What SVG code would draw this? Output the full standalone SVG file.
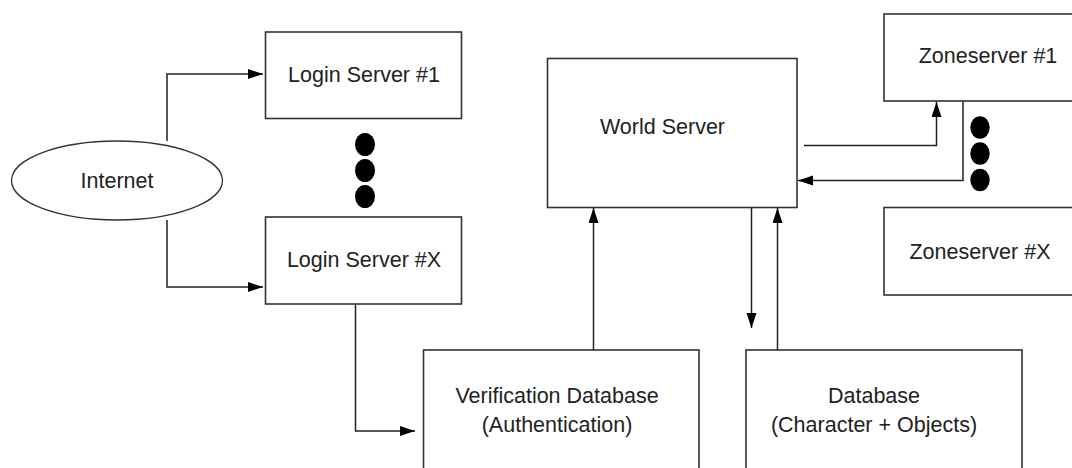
<svg xmlns="http://www.w3.org/2000/svg" width="1072" height="468" viewBox="0 0 1072 468">
  <defs>
    <marker id="arr" markerUnits="userSpaceOnUse" markerWidth="16" markerHeight="12" refX="15" refY="5" orient="auto">
      <path d="M0,0 L15,5 L0,10 z" fill="#000"/>
    </marker>
    <style>
      .box { fill: #fff; stroke: #333; stroke-width: 1.6; }
      .lbl { font-family: "Liberation Sans", Arial, sans-serif; font-size: 21.5px; fill: #222; text-anchor: middle; }
      .con { fill: none; stroke: #222; stroke-width: 1.5; }
      .dot { fill: #000; }
    </style>
  </defs>
  <rect width="1072" height="468" fill="#fff"/>

  <g id="connectors">
    <polyline class="con" points="167,141 167,74 263,74" marker-end="url(#arr)"/>
    <polyline class="con" points="167,220 167,287 263,287" marker-end="url(#arr)"/>
    <polyline class="con" points="355.5,304 355.5,431 415,431" marker-end="url(#arr)"/>
    <line class="con" x1="593.5" y1="350" x2="593.5" y2="208" marker-end="url(#arr)"/>
    <line class="con" x1="751.5" y1="207" x2="751.5" y2="328" marker-end="url(#arr)"/>
    <line class="con" x1="777.5" y1="350" x2="777.5" y2="208" marker-end="url(#arr)"/>
    <polyline class="con" points="804,145.5 936.5,145.5 936.5,102" marker-end="url(#arr)"/>
    <polyline class="con" points="963,101 963,180.5 798,180.5" marker-end="url(#arr)"/>
  </g>

  <g id="internet">
    <ellipse cx="117" cy="180.5" rx="105.5" ry="39.5" fill="#fff" stroke="#333" stroke-width="1.3"/>
    <text class="lbl" x="117" y="188">Internet</text>
  </g>

  <g id="login1">
    <rect class="box" x="265.5" y="32" width="196" height="86.5"/>
    <text class="lbl" x="364" y="82">Login Server #1</text>
  </g>

  <g id="login-dots">
    <ellipse class="dot" cx="365" cy="144.5" rx="10" ry="11.5"/>
    <ellipse class="dot" cx="365" cy="170.5" rx="10" ry="11.5"/>
    <ellipse class="dot" cx="365" cy="196.5" rx="10" ry="11.5"/>
  </g>

  <g id="loginX">
    <rect class="box" x="265.5" y="217" width="196" height="87"/>
    <text class="lbl" x="364" y="267">Login Server #X</text>
  </g>

  <g id="world">
    <rect class="box" x="547.5" y="58.5" width="249.5" height="149"/>
    <text class="lbl" x="662.5" y="134">World Server</text>
  </g>

  <g id="zone1">
    <rect class="box" x="884" y="14" width="200" height="87"/>
    <text class="lbl" x="988" y="63">Zoneserver #1</text>
  </g>

  <g id="zone-dots">
    <ellipse class="dot" cx="980" cy="127.5" rx="9.7" ry="11.2"/>
    <ellipse class="dot" cx="980" cy="153.5" rx="9.7" ry="11.2"/>
    <ellipse class="dot" cx="980" cy="180" rx="9.7" ry="11.2"/>
  </g>

  <g id="zoneX">
    <rect class="box" x="884" y="207.5" width="200" height="87.5"/>
    <text class="lbl" x="980" y="259">Zoneserver #X</text>
  </g>

  <g id="verification">
    <rect class="box" x="423.5" y="350" width="275.5" height="130"/>
    <text class="lbl" x="557" y="403">Verification Database</text>
    <text class="lbl" x="557" y="432">(Authentication)</text>
  </g>

  <g id="database">
    <rect class="box" x="746" y="350" width="276" height="130"/>
    <text class="lbl" x="874" y="403">Database</text>
    <text class="lbl" x="874" y="432">(Character + Objects)</text>
  </g>
</svg>
